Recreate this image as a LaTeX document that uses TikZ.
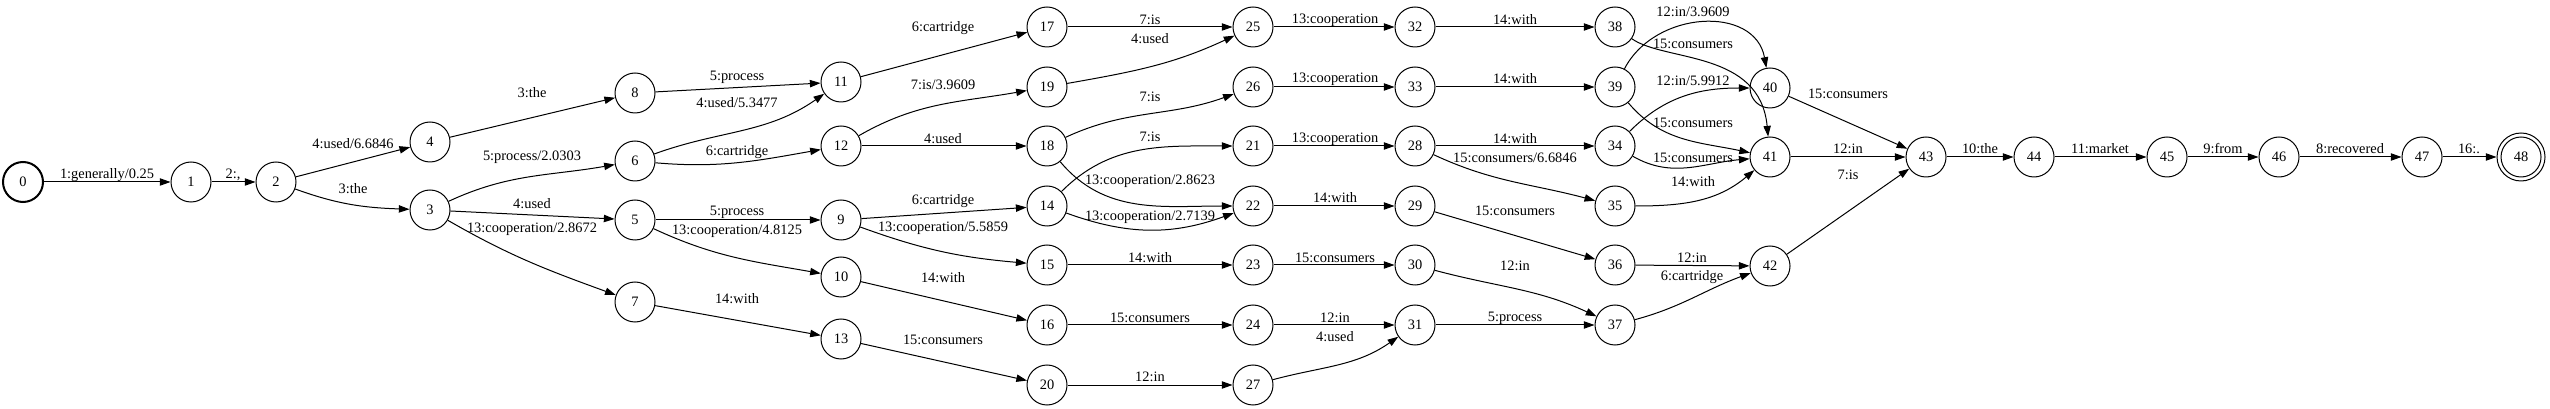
\documentclass[tikz,border=0pt]{standalone}
\usepackage{fontspec}
\setmainfont{Liberation Serif}
\usetikzlibrary{arrows.meta}
\tikzset{
  st/.style={circle,draw,line width=0.75pt,minimum size=30pt,inner sep=0pt,font=\fontsize{10.8pt}{12pt}\selectfont},
  edge/.style={line width=0.75pt,-{Triangle[length=8pt,width=5.5pt]}},
  lbl/.style={inner sep=0pt,font=\fontsize{10.8pt}{12pt}\selectfont}
}
\newcommand\ed[5]{\draw[edge] (#1) -- (#2) node[lbl] at (#3,#4) {#5};}
\newcommand\ec[7]{\draw[edge] (#1) to[out=#3,in=#4] (#2) node[lbl] at (#5,#6) {#7};}
\begin{document}
\begin{tikzpicture}[x=0.75pt,y=-0.75pt]
\useasboundingbox (0,0) rectangle (2550,409);
\node[st,line width=1.5pt] (0) at (23,182) {0};
\foreach \n/\x/\y in {1/191/182,2/276/182,3/430/210,4/430/142,5/635/220,6/635/161,7/635/302,8/635/93,
 9/841/220,10/841/277,11/841/82,12/841/146,13/841/339,
 14/1047/206,15/1047/265,16/1047/325,17/1047/27,18/1047/146,19/1047/87,20/1047/385,
 21/1253/146,22/1253/206,23/1253/265,24/1253/325,25/1253/27,26/1253/87,27/1253/385,
 28/1415/146,29/1415/206,30/1415/265,31/1415/325,32/1415/27,33/1415/87,
 34/1615/146,35/1615/206,36/1615/265,37/1615/325,38/1615/27,39/1615/87,
 40/1770/88,41/1770/157,42/1770/266,43/1926/157,44/2034/157,45/2167/157,46/2279/157,47/2422/157}
 {\node[st] (\n) at (\x,\y) {\n};}
\node[st,minimum size=36pt] (48) at (2521,157) {48};
\draw[line width=0.75pt] (48.center) circle[radius=15pt];
% edges
\ed{0}{1}{107}{175}{1:generally/0.25}
\ed{1}{2}{233}{175}{2:,}
\ed{2}{4}{353}{144}{4:used/6.6846}
\ec{2}{3}{-20}{178}{353}{189}{3:the}
\ed{4}{8}{532}{93}{3:the}
\ec{3}{6}{25}{190}{532}{157}{5:process/2.0303}
\ed{3}{5}{532}{204}{4:used}
\ec{3}{7}{-30}{160}{532}{229}{13:cooperation/2.8672}
\ed{8}{11}{737}{77}{5:process}
\ec{6}{11}{20}{215}{737}{103}{4:used/5.3477}
\ec{6}{12}{-5}{190}{737}{152}{6:cartridge}
\ed{5}{9}{737}{212}{5:process}
\ec{5}{10}{-25}{170}{737}{231}{13:cooperation/4.8125}
\ed{7}{13}{737}{299}{14:with}
\ed{11}{17}{943}{28}{6:cartridge}
\ec{12}{19}{30}{190}{943}{85}{7:is/3.9609}
\ed{12}{18}{943}{139}{4:used}
\ed{9}{14}{943}{201}{6:cartridge}
\ec{9}{15}{-20}{175}{943}{228}{13:cooperation/5.5859}
\ed{10}{16}{943}{278}{14:with}
\ed{13}{20}{943}{340}{15:consumers}
\ed{17}{25}{1150}{20}{7:is}
\ec{19}{25}{10}{205}{1150}{39}{4:used}
\ec{18}{26}{25}{200}{1150}{97}{7:is}
\ec{14}{21}{45}{180}{1150}{137}{7:is}
\ec{18}{22}{-50}{180}{1150}{181}{13:cooperation/2.8623}
\ec{14}{22}{-20}{200}{1150}{217}{13:cooperation/2.7139}
\ed{15}{23}{1150}{258}{14:with}
\ed{16}{24}{1150}{318}{15:consumers}
\ed{20}{27}{1150}{377}{12:in}
\ed{25}{32}{1335}{20}{13:cooperation}
\ed{26}{33}{1335}{79}{13:cooperation}
\ed{21}{28}{1335}{139}{13:cooperation}
\ed{22}{29}{1335}{198}{14:with}
\ed{23}{30}{1335}{258}{15:consumers}
\ed{24}{31}{1335}{318}{12:in}
\ec{27}{31}{15}{215}{1335}{337}{4:used}
\ed{32}{38}{1515}{20}{14:with}
\ed{33}{39}{1515}{79}{14:with}
\ed{28}{34}{1515}{139}{14:with}
\ec{28}{35}{-25}{165}{1515}{158}{15:consumers/6.6846}
\ed{29}{36}{1515}{211}{15:consumers}
\ec{30}{37}{-15}{155}{1515}{266}{12:in}
\ed{31}{37}{1515}{318}{5:process}
\draw[edge] (39) .. controls (1655,10) and (1755,5) .. (40) node[lbl] at (1693,12) {12:in/3.9609};
\draw[edge] (38) .. controls (1665,62) and (1760,50) .. (41) node[lbl] at (1693,44) {15:consumers};
\ec{34}{40}{45}{180}{1693}{81}{12:in/5.9912}
\ec{39}{41}{-50}{168}{1693}{123}{15:consumers}
\ec{34}{41}{-30}{185}{1693}{158}{15:consumers}
\ec{35}{41}{0}{220}{1693}{182}{14:with}
\ed{36}{42}{1692}{258}{12:in}
\ec{37}{42}{15}{200}{1692}{277}{6:cartridge}
\ed{40}{43}{1848}{94}{15:consumers}
\ed{41}{43}{1848}{149}{12:in}
\ed{42}{43}{1848}{175}{7:is}
\ed{43}{44}{1980}{149}{10:the}
\ed{44}{45}{2100}{149}{11:market}
\ed{45}{46}{2223}{149}{9:from}
\ed{46}{47}{2350}{149}{8:recovered}
\ed{47}{48}{2469}{149}{16:.}
\end{tikzpicture}
\end{document}
